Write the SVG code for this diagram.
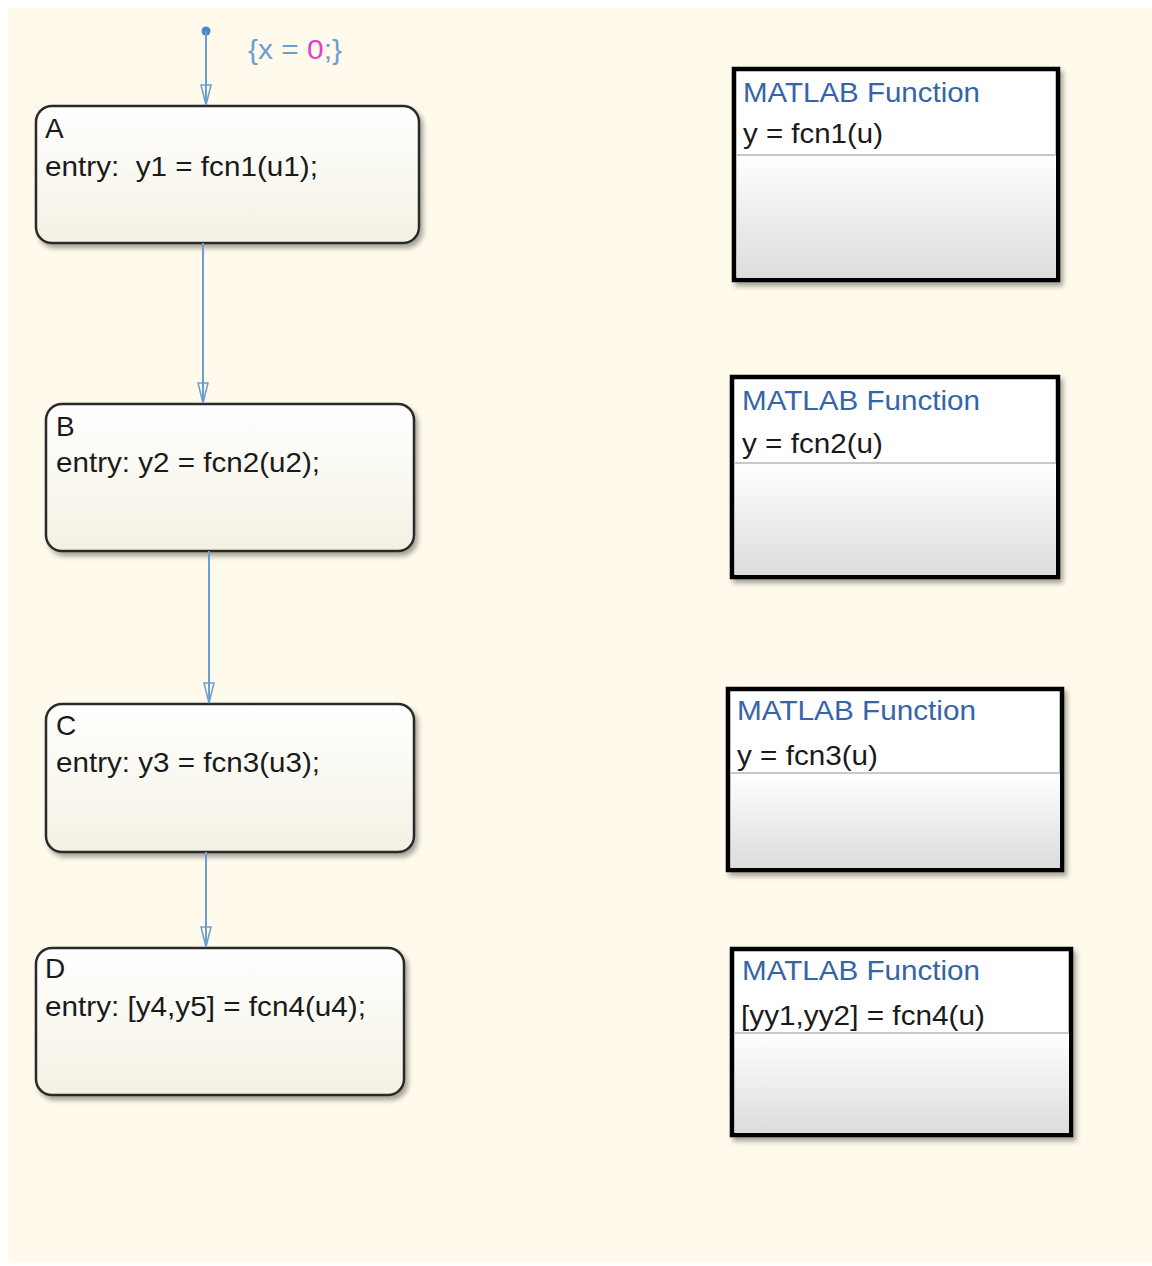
<svg xmlns="http://www.w3.org/2000/svg" width="1152" height="1266" viewBox="0 0 1152 1266">
<defs>
<linearGradient id="stateFill" x1="0" y1="0" x2="0" y2="1">
<stop offset="0" stop-color="#ffffff"/>
<stop offset="1" stop-color="#f4f1e3"/>
</linearGradient>
<linearGradient id="fnFill" x1="0" y1="0" x2="0" y2="1">
<stop offset="0" stop-color="#ffffff"/>
<stop offset="1" stop-color="#dcdcdc"/>
</linearGradient>
<filter id="shadow" x="-10%" y="-10%" width="125%" height="130%">
<feDropShadow dx="3" dy="4" stdDeviation="2.5" flood-color="#000" flood-opacity="0.35"/>
</filter>
<marker id="arrow" viewBox="0 0 22 12" refX="21" refY="6" markerWidth="22" markerHeight="12" markerUnits="userSpaceOnUse" orient="auto">
<path d="M1,1 L21,6 L1,11 Z" fill="none" stroke="#6a9fd4" stroke-width="1.5"/>
</marker>
<style>
.bg{fill:#fffaeb;}
.state{fill:url(#stateFill);stroke:#2b2b2b;stroke-width:2.5;filter:url(#shadow);}
.fnbox{fill:#ffffff;stroke:#000;stroke-width:4.5;filter:url(#shadow);}
.fnlow{fill:url(#fnFill);}
.div{stroke:#c8c8c8;stroke-width:2;}
.t{font-family:"Liberation Sans",Arial,sans-serif;font-size:28px;fill:#1a1a1a;}
.fnt{font-family:"Liberation Sans",Arial,sans-serif;font-size:28px;fill:#3565a8;}
.conn{stroke:#6a9fd4;stroke-width:2;fill:none;}
.lbl{font-family:"Liberation Sans",Arial,sans-serif;font-size:28px;fill:#6a9fd4;}
.num{fill:#e040c8;}
</style>
</defs>
<rect x="0" y="0" width="1152" height="1266" fill="#ffffff"/>
<rect class="bg" x="8" y="8" width="1144" height="1255"/>

<g id="state-A">
<rect class="state" x="36" y="106" width="383" height="137" rx="16"/>
<text class="t" x="45" y="138">A</text>
<text class="t" x="45" y="176" textLength="273" lengthAdjust="spacingAndGlyphs" xml:space="preserve">entry:  y1 = fcn1(u1);</text>
</g>
<g id="state-B">
<rect class="state" x="46" y="404" width="368" height="147" rx="16"/>
<text class="t" x="56" y="436">B</text>
<text class="t" x="56" y="472" textLength="264" lengthAdjust="spacingAndGlyphs">entry: y2 = fcn2(u2);</text>
</g>
<g id="state-C">
<rect class="state" x="46" y="704" width="368" height="148" rx="16"/>
<text class="t" x="56" y="735">C</text>
<text class="t" x="56" y="772" textLength="264" lengthAdjust="spacingAndGlyphs">entry: y3 = fcn3(u3);</text>
</g>
<g id="state-D">
<rect class="state" x="36" y="948" width="368" height="147" rx="16"/>
<text class="t" x="45" y="978">D</text>
<text class="t" x="45" y="1016" textLength="321" lengthAdjust="spacingAndGlyphs">entry: [y4,y5] = fcn4(u4);</text>
</g>

<g id="fn1">
<rect class="fnbox" x="734" y="69" width="324" height="211"/>
<rect class="fnlow" x="737" y="155" width="319" height="123"/>
<line class="div" x1="737" y1="155" x2="1056" y2="155"/>
<text class="fnt" x="743" y="102" textLength="237" lengthAdjust="spacingAndGlyphs">MATLAB Function</text>
<text class="t" x="743" y="143" textLength="140" lengthAdjust="spacingAndGlyphs">y = fcn1(u)</text>
</g>
<g id="fn2">
<rect class="fnbox" x="732" y="377" width="326" height="200"/>
<rect class="fnlow" x="735" y="463" width="321" height="112"/>
<line class="div" x1="735" y1="463" x2="1056" y2="463"/>
<text class="fnt" x="742" y="410" textLength="238" lengthAdjust="spacingAndGlyphs">MATLAB Function</text>
<text class="t" x="742" y="453" textLength="141" lengthAdjust="spacingAndGlyphs">y = fcn2(u)</text>
</g>
<g id="fn3">
<rect class="fnbox" x="728" y="689" width="334" height="181"/>
<rect class="fnlow" x="731" y="773" width="329" height="95"/>
<line class="div" x1="731" y1="773" x2="1060" y2="773"/>
<text class="fnt" x="737" y="720" textLength="239" lengthAdjust="spacingAndGlyphs">MATLAB Function</text>
<text class="t" x="737" y="765" textLength="141" lengthAdjust="spacingAndGlyphs">y = fcn3(u)</text>
</g>
<g id="fn4">
<rect class="fnbox" x="732" y="949" width="339" height="186"/>
<rect class="fnlow" x="735" y="1033" width="334" height="100"/>
<line class="div" x1="735" y1="1033" x2="1069" y2="1033"/>
<text class="fnt" x="742" y="980" textLength="238" lengthAdjust="spacingAndGlyphs">MATLAB Function</text>
<text class="t" x="741" y="1025" textLength="244" lengthAdjust="spacingAndGlyphs">[yy1,yy2] = fcn4(u)</text>
</g>

<g id="connectors">
<circle cx="206" cy="31" r="4.5" fill="#4a86c5"/>
<line class="conn" x1="206" y1="31" x2="206" y2="105" marker-end="url(#arrow)"/>
<text class="lbl" x="248" y="59" textLength="94" lengthAdjust="spacingAndGlyphs">{x = <tspan class="num">0</tspan>;}</text>
<line class="conn" x1="203" y1="243" x2="203" y2="403" marker-end="url(#arrow)"/>
<line class="conn" x1="209" y1="551" x2="209" y2="703" marker-end="url(#arrow)"/>
<line class="conn" x1="206" y1="852" x2="206" y2="947" marker-end="url(#arrow)"/>
</g>
</svg>
